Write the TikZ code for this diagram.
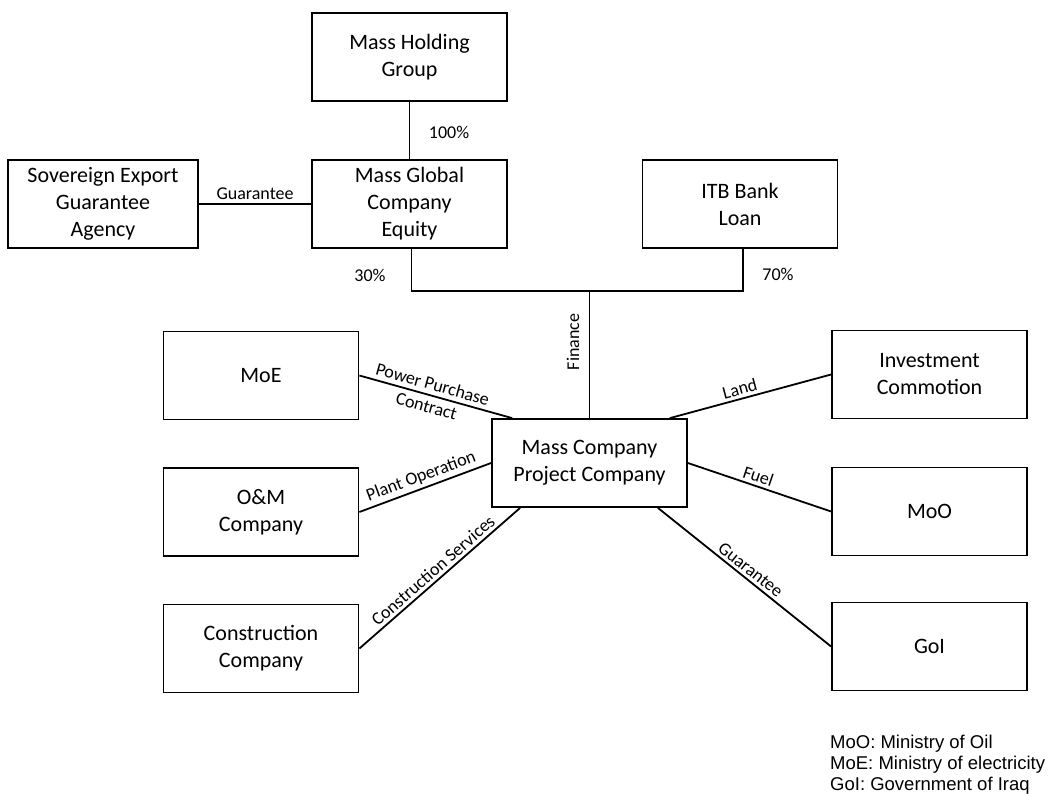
\documentclass[tikz,border=0pt]{standalone}
\usepackage{fontspec}
\setmainfont{Carlito}
\newfontfamily\legendfont{Liberation Sans}
\begin{document}
\begin{tikzpicture}[x=1pt,y=-1pt,
  box/.style={draw, line width=1.8pt, minimum width=195pt, minimum height=88pt, align=center, inner sep=0pt, font=\fontsize{22}{27}\selectfont},
  conn/.style={line width=1.8pt},
  lab/.style={inner sep=3pt, font=\fontsize{18}{23}\selectfont},
  legend/.style={anchor=base west, inner sep=0pt, font=\legendfont\fontsize{18.5}{21}\selectfont}]
\fill[white] (0,0) rectangle (1051,794);
\useasboundingbox (0,0) rectangle (1051,794);

\node[box] (mhg) at (409.5,57) {Mass Holding\\Group};
\node[box] (mgc) at (409.5,204) {Mass Global\\Company\\Equity};
\node[box, minimum width=190pt] (sega) at (103,204) {Sovereign Export\\Guarantee\\Agency};
\node[box] (itb) at (740,204) {ITB Bank\\Loan};
\node[box] (pc) at (589.5,463) {Mass Company\\Project Company};
\node[box] (moe) at (261,375.5) {MoE};
\node[box] (om) at (261,512) {O\&M\\Company};
\node[box] (cc) at (261,648.5) {Construction\\Company};
\node[box] (ic) at (929.5,374.5) {Investment\\Commotion};
\node[box] (moo) at (929.5,511.5) {MoO};
\node[box] (goi) at (929.5,646.5) {GoI};

\draw[conn] (mhg) -- (mgc);
\node[lab] (p100) at (449,132) {100\%};
\draw[conn] (sega) -- (mgc) node[lab, midway, above] {Guarantee};

\coordinate (bus) at (589.5,291);
\draw[conn] ([xshift=2pt]mgc.south) |- (bus) -| ([xshift=3pt]itb.south);
\node[lab] (p30) at (370,275) {30\%};
\node[lab] (p70) at (778,274) {70\%};
\draw[conn] (bus) -- (pc.north);
\node[lab, rotate=90] (fin) at (573,342) {Finance};

\draw[conn] (moe.east) -- ([xshift=21pt]pc.north west)
  node[lab, pos=0.46, sloped, align=center] {Power Purchase\\Contract};
\draw[conn] (om.east) -- (pc.west)
  node[lab, midway, sloped, above] {Plant Operation};
\draw[conn] (cc.east) -- ([xshift=29pt]pc.south west)
  node[lab, midway, sloped, above] {Construction Services};
\draw[conn] ([xshift=-18pt]pc.north east) -- (ic.west)
  node[lab, pos=0.45, sloped, above] {Land};
\draw[conn] (pc.east) -- (moo.west)
  node[lab, pos=0.47, sloped, above] {Fuel};
\draw[conn] ([xshift=-30pt]pc.south east) -- (goi.west)
  node[lab, midway, sloped, above] {Guarantee};

\node[legend] (l1) at (830,748) {MoO: Ministry of Oil};
\node[legend] (l2) at (830,769) {MoE: Ministry of electricity};
\node[legend] (l3) at (830,790) {GoI: Government of Iraq};
\end{tikzpicture}
\end{document}
